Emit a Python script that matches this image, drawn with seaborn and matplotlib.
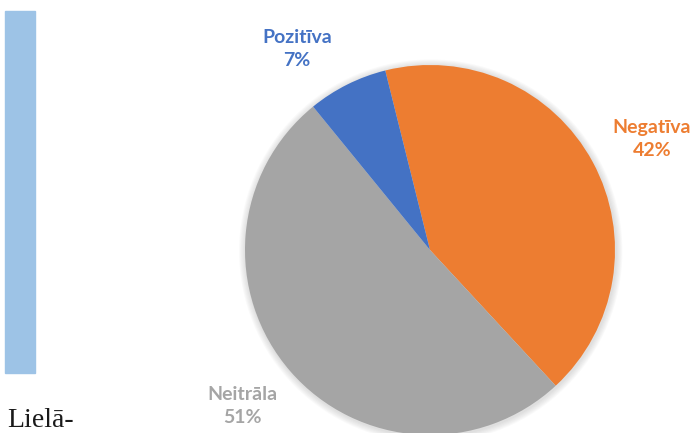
import numpy as np
import matplotlib
matplotlib.use("Agg")
import matplotlib.pyplot as plt
import seaborn as sns
from matplotlib.patches import Rectangle, Circle

sns.set_style("white")
plt.rcParams['font.family'] = ['Lato', 'DejaVu Sans']

# Dati
kategorijas = ["Negatīva", "Neitrāla", "Pozitīva"]
procenti = [42, 51, 7]
krasas = ["#ED7D31", "#A5A5A5", "#4472C4"]

W, H = 692, 433
cx, cy, r = 430, 250, 185  # pīrāga centrs un rādiuss pikseļos

# etiķešu centri pikseļos (no augšējā kreisā stūra)
etiketes_xy = [(652, 139), (242, 406), (297, 49)]

fig = plt.figure(figsize=(W / 100, H / 100), dpi=100)
ax = fig.add_axes([0, 0, 1, 1])

# vāja ēna ap pīrāgu
for k in range(1, 7):
    ax.add_patch(Circle((0.004, -0.006), 1 + k * 0.006, color="#808080",
                        alpha=0.045, lw=0, zorder=0))

wedges, _ = ax.pie(procenti, colors=krasas, startangle=104, counterclock=False,
                   wedgeprops=dict(linewidth=0))

for (px, py), nos, p, c in zip(etiketes_xy, kategorijas, procenti, krasas):
    x = (px - cx) / r
    y = (cy - py) / r
    ax.text(x, y, f"{nos}\n{p}%", ha="center", va="center", color=c,
            fontsize=14, fontweight="bold", linespacing=1.4)

ax.set_xlim(-cx / r, (W - cx) / r)
ax.set_ylim(-(H - cy) / r, cy / r)
ax.set_aspect("equal")
ax.axis("off")

# gaiši zilā josla kreisajā pusē
fig.patches.append(Rectangle((5 / W, 1 - 373 / H), 30 / W, 362 / H,
                             transform=fig.transFigure, color="#9DC3E6", zorder=0))

fig.text(7 / W, 1 - 427 / H, "Lielā-", fontsize=20, family="Liberation Serif",
         color="#1a1a1a", ha="left", va="baseline")

fig.savefig("out.png", dpi=100)
